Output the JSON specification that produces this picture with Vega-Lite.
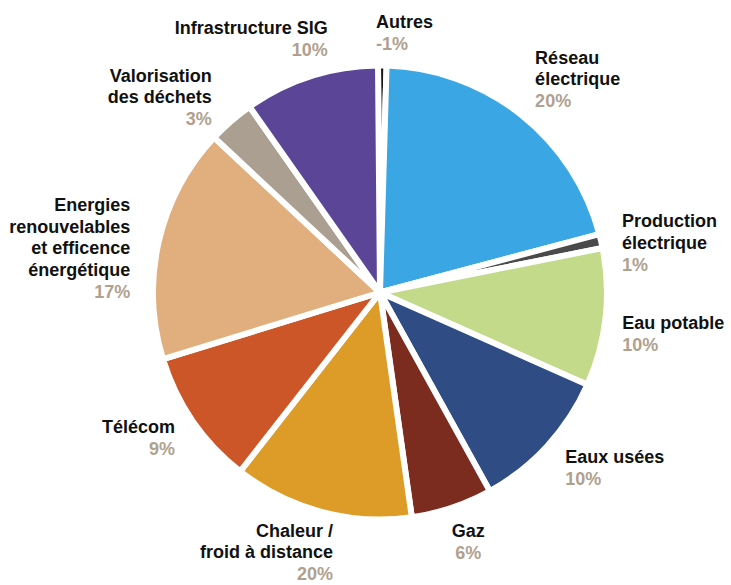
{
  "$schema": "https://vega.github.io/schema/vega-lite/v6.json",
  "autosize": "none",
  "width": 702,
  "height": 585,
  "padding": {"left": 29, "top": 0, "right": 0, "bottom": 0},
  "background": "white",
  "config": {
    "view": {"stroke": null},
    "text": {"font": "Liberation Sans", "fontWeight": "bold", "fontSize": 18, "lineHeight": 21.5, "lineBreak": "\n"}
  },
  "data": {
    "values": [
      {"order": 1, "name": "Autres", "label": "Autres", "pct": "-1%", "value": 0.6},
      {"order": 2, "name": "Réseau électrique", "label": "Réseau\nélectrique", "pct": "20%", "value": 20.4},
      {"order": 3, "name": "Production électrique", "label": "Production\nélectrique", "pct": "1%", "value": 1.0},
      {"order": 4, "name": "Eau potable", "label": "Eau potable", "pct": "10%", "value": 9.8},
      {"order": 5, "name": "Eaux usées", "label": "Eaux usées", "pct": "10%", "value": 10.3},
      {"order": 6, "name": "Gaz", "label": "Gaz", "pct": "6%", "value": 5.8},
      {"order": 7, "name": "Chaleur / froid à distance", "label": "Chaleur /\nfroid à distance", "pct": "20%", "value": 12.8},
      {"order": 8, "name": "Télécom", "label": "Télécom", "pct": "9%", "value": 9.7},
      {"order": 9, "name": "Energies renouvelables et efficence énergétique", "label": "Energies\nrenouvelables\net efficence\nénergétique", "pct": "17%", "value": 16.7},
      {"order": 10, "name": "Valorisation des déchets", "label": "Valorisation\ndes déchets", "pct": "3%", "value": 3.3},
      {"order": 11, "name": "Infrastructure SIG", "label": "Infrastructure SIG", "pct": "10%", "value": 9.6}
    ]
  },
  "transform": [
    {"stack": "value", "groupby": [], "sort": [{"field": "order", "order": "ascending"}], "as": ["v0", "v1"]}
  ],
  "layer": [
    {
      "mark": {"type": "arc", "outerRadius": 227, "stroke": "white", "strokeWidth": 6, "strokeJoin": "round"},
      "encoding": {
        "theta": {"field": "v0", "type": "quantitative", "stack": null, "scale": {"domain": [0, 100], "range": [-0.00873, 6.27446]}},
        "theta2": {"field": "v1"},
        "color": {
          "field": "name", "type": "nominal", "legend": null,
          "scale": {
            "domain": ["Autres", "Réseau électrique", "Production électrique", "Eau potable", "Eaux usées", "Gaz", "Chaleur / froid à distance", "Télécom", "Energies renouvelables et efficence énergétique", "Valorisation des déchets", "Infrastructure SIG"],
            "range": ["#151515", "#3aa6e4", "#4a4a4a", "#c3da8b", "#2f4c84", "#7b2c1f", "#dd9c27", "#cd5628", "#e1ae7e", "#aa9f90", "#5a4597"]
          }
        }
      }
    },
    {
      "transform": [{"filter": {"field": "name", "equal": "Autres"}}],
      "encoding": {"theta": {"field": "v0", "type": "quantitative", "stack": null}},
      "layer": [
        {"mark": {"type": "text", "radius": 259, "thetaOffset": -0.0066, "align": "left", "baseline": "bottom", "dy": -2, "color": "#111111"}, "encoding": {"text": {"field": "label"}}},
        {"mark": {"type": "text", "radius": 259, "thetaOffset": -0.0066, "align": "left", "baseline": "top", "dy": 2, "color": "#b0a18f"}, "encoding": {"text": {"field": "pct"}}}
      ]
    },
    {
      "transform": [{"filter": {"field": "name", "equal": "Réseau électrique"}}],
      "encoding": {"theta": {"field": "v0", "type": "quantitative", "stack": null}},
      "layer": [
        {"mark": {"type": "text", "radius": 254, "thetaOffset": 0.628, "align": "left", "baseline": "bottom", "dy": -23.5, "color": "#111111"}, "encoding": {"text": {"field": "label"}}},
        {"mark": {"type": "text", "radius": 254, "thetaOffset": 0.628, "align": "left", "baseline": "top", "dy": 2, "color": "#b0a18f"}, "encoding": {"text": {"field": "pct"}}}
      ]
    },
    {
      "transform": [{"filter": {"field": "name", "equal": "Production électrique"}}],
      "encoding": {"theta": {"field": "v0", "type": "quantitative", "stack": null}},
      "layer": [
        {"mark": {"type": "text", "radius": 245, "thetaOffset": 0.105, "align": "left", "baseline": "bottom", "dy": -23.5, "color": "#111111"}, "encoding": {"text": {"field": "label"}}},
        {"mark": {"type": "text", "radius": 245, "thetaOffset": 0.105, "align": "left", "baseline": "top", "dy": 2, "color": "#b0a18f"}, "encoding": {"text": {"field": "pct"}}}
      ]
    },
    {
      "transform": [{"filter": {"field": "name", "equal": "Eau potable"}}],
      "encoding": {"theta": {"field": "v0", "type": "quantitative", "stack": null}},
      "layer": [
        {"mark": {"type": "text", "radius": 246, "thetaOffset": 0.371, "align": "left", "baseline": "bottom", "dy": -2, "color": "#111111"}, "encoding": {"text": {"field": "label"}}},
        {"mark": {"type": "text", "radius": 246, "thetaOffset": 0.371, "align": "left", "baseline": "top", "dy": 2, "color": "#b0a18f"}, "encoding": {"text": {"field": "pct"}}}
      ]
    },
    {
      "transform": [{"filter": {"field": "name", "equal": "Eaux usées"}}],
      "encoding": {"theta": {"field": "v0", "type": "quantitative", "stack": null}},
      "layer": [
        {"mark": {"type": "text", "radius": 256, "thetaOffset": 0.343, "align": "left", "baseline": "bottom", "dy": -2, "color": "#111111"}, "encoding": {"text": {"field": "label"}}},
        {"mark": {"type": "text", "radius": 256, "thetaOffset": 0.343, "align": "left", "baseline": "top", "dy": 2, "color": "#b0a18f"}, "encoding": {"text": {"field": "pct"}}}
      ]
    },
    {
      "transform": [{"filter": {"field": "name", "equal": "Gaz"}}],
      "encoding": {"theta": {"field": "v0", "type": "quantitative", "stack": null}},
      "layer": [
        {"mark": {"type": "text", "radius": 266, "thetaOffset": 0.167, "align": "center", "baseline": "bottom", "dy": -2, "color": "#111111"}, "encoding": {"text": {"field": "label"}}},
        {"mark": {"type": "text", "radius": 266, "thetaOffset": 0.167, "align": "center", "baseline": "top", "dy": 2, "color": "#b0a18f"}, "encoding": {"text": {"field": "pct"}}}
      ]
    },
    {
      "transform": [{"filter": {"field": "name", "equal": "Chaleur / froid à distance"}}],
      "encoding": {"theta": {"field": "v0", "type": "quantitative", "stack": null}},
      "layer": [
        {"mark": {"type": "text", "radius": 276, "thetaOffset": 0.312, "align": "right", "baseline": "bottom", "dy": -23.5, "color": "#111111"}, "encoding": {"text": {"field": "label"}}},
        {"mark": {"type": "text", "radius": 276, "thetaOffset": 0.312, "align": "right", "baseline": "top", "dy": 2, "color": "#b0a18f"}, "encoding": {"text": {"field": "pct"}}}
      ]
    },
    {
      "transform": [{"filter": {"field": "name", "equal": "Télécom"}}],
      "encoding": {"theta": {"field": "v0", "type": "quantitative", "stack": null}},
      "layer": [
        {"mark": {"type": "text", "radius": 252, "thetaOffset": 0.287, "align": "right", "baseline": "bottom", "dy": -2, "color": "#111111"}, "encoding": {"text": {"field": "label"}}},
        {"mark": {"type": "text", "radius": 252, "thetaOffset": 0.287, "align": "right", "baseline": "top", "dy": 2, "color": "#b0a18f"}, "encoding": {"text": {"field": "pct"}}}
      ]
    },
    {
      "transform": [{"filter": {"field": "name", "equal": "Energies renouvelables et efficence énergétique"}}],
      "encoding": {"theta": {"field": "v0", "type": "quantitative", "stack": null}},
      "layer": [
        {"mark": {"type": "text", "radius": 250, "thetaOffset": 0.340, "align": "right", "baseline": "bottom", "dy": -66.5, "color": "#111111"}, "encoding": {"text": {"field": "label"}}},
        {"mark": {"type": "text", "radius": 250, "thetaOffset": 0.340, "align": "right", "baseline": "top", "dy": 2, "color": "#b0a18f"}, "encoding": {"text": {"field": "pct"}}}
      ]
    },
    {
      "transform": [{"filter": {"field": "name", "equal": "Valorisation des déchets"}}],
      "encoding": {"theta": {"field": "v0", "type": "quantitative", "stack": null}},
      "layer": [
        {"mark": {"type": "text", "radius": 249, "thetaOffset": 0.077, "align": "right", "baseline": "bottom", "dy": -23.5, "color": "#111111"}, "encoding": {"text": {"field": "label"}}},
        {"mark": {"type": "text", "radius": 249, "thetaOffset": 0.077, "align": "right", "baseline": "top", "dy": 2, "color": "#b0a18f"}, "encoding": {"text": {"field": "pct"}}}
      ]
    },
    {
      "transform": [{"filter": {"field": "name", "equal": "Infrastructure SIG"}}],
      "encoding": {"theta": {"field": "v0", "type": "quantitative", "stack": null}},
      "layer": [
        {"mark": {"type": "text", "radius": 258, "thetaOffset": 0.408, "align": "right", "baseline": "bottom", "dy": -2, "color": "#111111"}, "encoding": {"text": {"field": "label"}}},
        {"mark": {"type": "text", "radius": 258, "thetaOffset": 0.408, "align": "right", "baseline": "top", "dy": 2, "color": "#b0a18f"}, "encoding": {"text": {"field": "pct"}}}
      ]
    }
  ]
}
